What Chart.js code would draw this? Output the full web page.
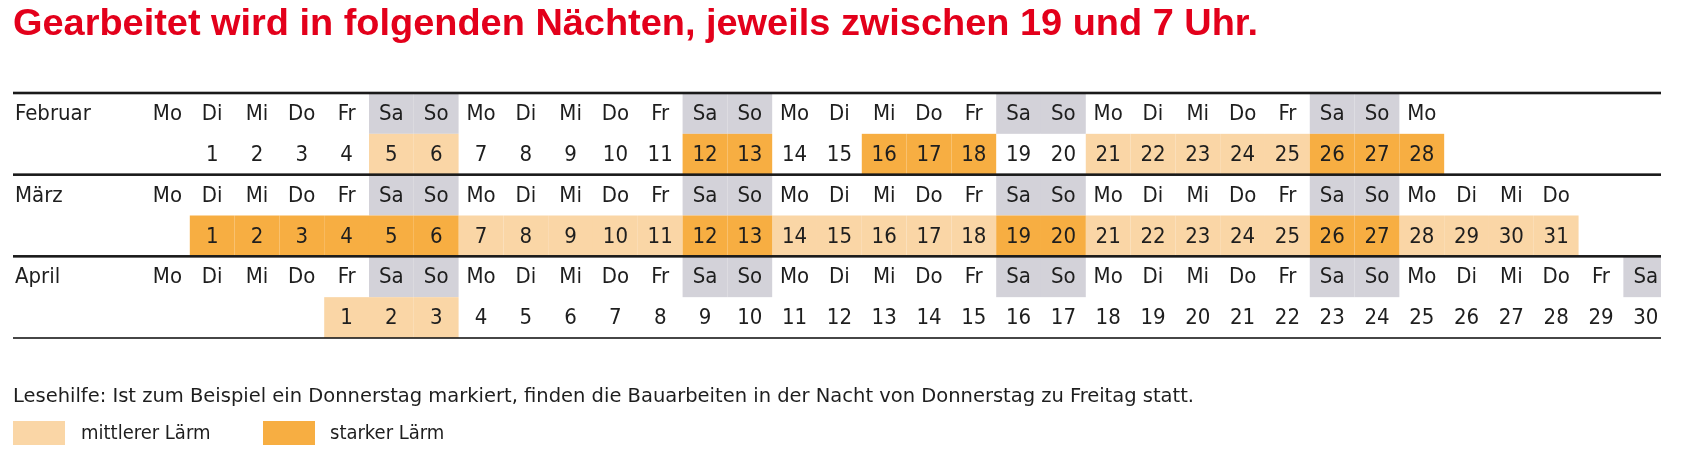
<!DOCTYPE html>
<html><head><meta charset="utf-8">
<script src="https://cdn.jsdelivr.net/npm/chart.js@4/dist/chart.umd.min.js"></script>
<style>html,body{margin:0;padding:0;background:#fff}</style>
</head><body>
<canvas id="c" width="1684" height="452"></canvas>
<script>
const titleText = "Gearbeitet wird in folgenden Nächten, jeweils zwischen 19 und 7 Uhr.";
const noteText = "Lesehilfe: Ist zum Beispiel ein Donnerstag markiert, finden die Bauarbeiten in der Nacht von Donnerstag zu Freitag statt.";
const legendLabels = ["mittlerer Lärm", "starker Lärm"];
const weekdays = ["Mo","Di","Mi","Do","Fr","Sa","So"];
const months = ["Februar","März","April"];
const daysInMonth = [28, 31, 30];
const firstCol = [1, 1, 4];          // column of day 1 (0 = Monday)
const headerCols = [29, 32, 34];     // number of weekday header columns shown
const mediumDays = [
  [5,6,21,22,23,24,25],
  [7,8,9,10,11,14,15,16,17,18,21,22,23,24,25,28,29,30,31],
  [1,2,3]
];
const strongDays = [
  [12,13,16,17,18,26,27,28],
  [1,2,3,4,5,6,12,13,19,20,26,27],
  []
];

const C = {red:'#e3001b', medium:'#fad6a6', strong:'#f7ae42', gray:'#d3d2d9', text:'#1e1e1e', line:'#1a1a1a'};
const FONT = "'Liberation Sans Narrow','DejaVu Sans Condensed','Liberation Sans',sans-serif";

const calPlugin = {
  id:'cal',
  afterDraw(chart){
    const ctx = chart.ctx, xs = chart.scales.x, ys = chart.scales.y;
    const X = v => xs.getPixelForValue(v), Y = v => ys.getPixelForValue(v);
    const xEnd = xs.right;
    const cell = (col,row,color)=>{
      const x0 = X(col), x1 = Math.min(X(col+1), xEnd);
      ctx.fillStyle = color; ctx.fillRect(x0, Y(row), x1-x0, Y(row+1)-Y(row));
    };
    ctx.save();
    // title
    ctx.fillStyle = C.red; ctx.textBaseline='alphabetic'; ctx.textAlign='left';
    ctx.font = "bold 36px 'Liberation Sans Narrow','Liberation Sans',sans-serif";
    let tw = ctx.measureText(titleText).width;
    ctx.save(); ctx.translate(13,35); ctx.scale(1245/tw,1); ctx.fillText(titleText,0,0); ctx.restore();

    months.forEach((m,mi)=>{
      const hr = mi*2, nr = mi*2+1;
      // weekend header shading
      for(let c=0;c<headerCols[mi];c++){ if(c%7>=5) cell(c,hr,C.gray); }
      // noise cells
      mediumDays[mi].forEach(d=>cell(firstCol[mi]+d-1,nr,C.medium));
      strongDays[mi].forEach(d=>cell(firstCol[mi]+d-1,nr,C.strong));
      // texts
      ctx.fillStyle=C.text; ctx.font="22px "+FONT; ctx.textBaseline='middle';
      ctx.textAlign='left';
      ctx.fillText(m, 15, (Y(hr)+Y(hr+1))/2+1);
      ctx.textAlign='center';
      for(let c=0;c<headerCols[mi];c++){
        ctx.fillText(weekdays[c%7], (X(c)+X(c+1))/2, (Y(hr)+Y(hr+1))/2+1);
      }
      for(let d=1; d<=daysInMonth[mi]; d++){
        const c = firstCol[mi]+d-1;
        ctx.fillText(String(d), (X(c)+X(c+1))/2, (Y(nr)+Y(nr+1))/2+1);
      }
    });
    // rules
    ctx.fillStyle=C.line;
    [0,2,4,6].forEach(r=>{
      const w = (r===6)?1.6:2.6;
      ctx.fillRect(13, Y(r)-w/2, xEnd-13, w);
    });
    // note + legend
    ctx.fillStyle=C.text; ctx.textAlign='left'; ctx.textBaseline='middle';
    ctx.font="19px "+FONT;
    let nw = ctx.measureText(noteText).width;
    ctx.save(); ctx.translate(13,397); ctx.scale(1181/nw,1); ctx.fillText(noteText,0,0); ctx.restore();
    ctx.fillStyle=C.medium; ctx.fillRect(13,421,52,24);
    ctx.fillStyle=C.strong; ctx.fillRect(263,421,52,24);
    ctx.fillStyle=C.text; ctx.font="20px "+FONT;
    ctx.fillText(legendLabels[0],81,434);
    ctx.fillText(legendLabels[1],330,434);
    ctx.restore();
  }
};

new Chart(document.getElementById('c'),{
  type:'scatter',
  data:{datasets:[{data:[],pointRadius:0}]},
  options:{
    responsive:false, animation:false, events:[],
    layout:{padding:{left:145,right:23,top:93,bottom:114}},
    plugins:{legend:{display:false},tooltip:{enabled:false},title:{display:false}},
    scales:{
      x:{type:'linear',min:0,max:33.84,display:false},
      y:{type:'linear',min:0,max:6,reverse:true,display:false}
    }
  },
  plugins:[calPlugin]
});
</script>
</body></html>
